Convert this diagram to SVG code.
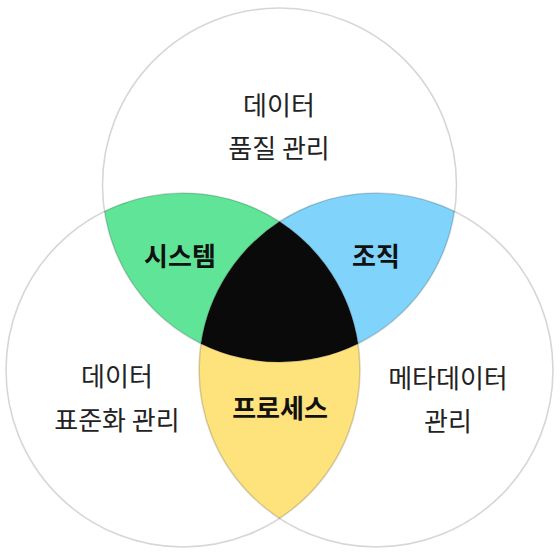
<svg xmlns="http://www.w3.org/2000/svg" width="560" height="560" viewBox="0 0 560 560">
<style>
.lbl{font-family:"Noto Sans CJK KR","Noto Sans",sans-serif;font-size:26px;fill:#222;text-anchor:middle}
.bold{font-family:"Noto Sans CJK KR","Noto Sans",sans-serif;font-size:26px;font-weight:700;fill:#111;text-anchor:middle}
.ring{fill:none;stroke:#000;stroke-opacity:0.16;stroke-width:1.6}
</style>
<rect width="560" height="560" fill="#fff"/>
<g id="regions">
<path id="green" d="M104.47 211.37 A177 177 0 0 1 279.5 221.6 A177 177 0 0 0 200.97 343.63 A177 177 0 0 1 104.47 211.37 Z" fill="#60e598"/>
<path id="blue" d="M454.53 211.37 A177 177 0 0 0 279.5 221.6 A177 177 0 0 1 358.03 343.63 A177 177 0 0 0 454.53 211.37 Z" fill="#80d4fc"/>
<path id="yellow" d="M200.97 343.63 A177 177 0 0 0 358.03 343.63 A177 177 0 0 1 279.5 518.4 A177 177 0 0 1 200.97 343.63 Z" fill="#fee27c"/>
<path id="black" d="M279.5 221.6 A177 177 0 0 1 358.03 343.63 A177 177 0 0 1 200.97 343.63 A177 177 0 0 1 279.5 221.6 Z" fill="#0a0a0a"/>
</g>
<g id="circles">
<circle id="top" class="ring" cx="279.5" cy="185" r="177"/>
<circle id="left" class="ring" cx="183" cy="370" r="177"/>
<circle id="right" class="ring" cx="376" cy="370" r="177"/>
</g>
<g id="labels">
<text class="lbl" x="279" y="115">데이터</text>
<text class="lbl" x="279" y="158">품질 관리</text>
<text class="lbl" x="117" y="386">데이터</text>
<text class="lbl" x="117" y="430">표준화 관리</text>
<text class="lbl" x="448" y="388">메타데이터</text>
<text class="lbl" x="448" y="431">관리</text>
<text class="bold" x="180" y="266">시스템</text>
<text class="bold" x="376" y="266">조직</text>
<text class="bold" x="280" y="418">프로세스</text>
</g>
</svg>
